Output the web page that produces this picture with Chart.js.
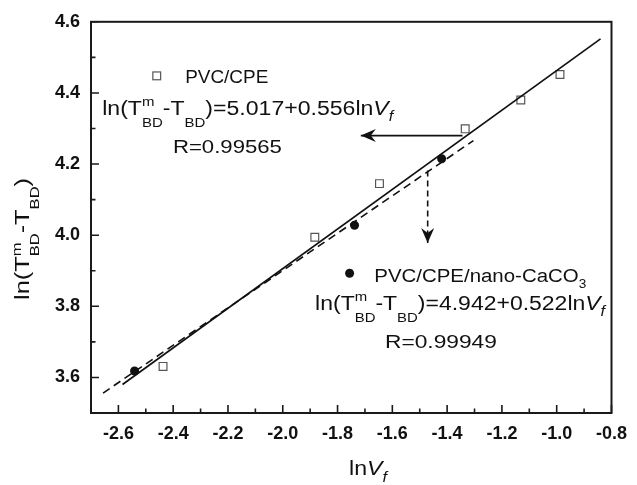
<!DOCTYPE html>
<html><head><meta charset="utf-8">
<script src="https://cdn.jsdelivr.net/npm/chart.js@4/dist/chart.umd.min.js"></script>
<style>html,body{margin:0;padding:0;background:#fff}#wrap{width:637px;height:485px}</style>
</head><body><div id="wrap"><canvas id="c" width="637" height="485"></canvas></div>
<script>
// ---- data ----
const xTicks = [-2.6, -2.4, -2.2, -2.0, -1.8, -1.6, -1.4, -1.2, -1.0, -0.8];
const xTickLabels = ['-2.6', '-2.4', '-2.2', '-2.0', '-1.8', '-1.6', '-1.4', '-1.2', '-1.0', '-0.8'];
const yTicks = [3.6, 3.8, 4.0, 4.2, 4.4, 4.6];
const yTickLabels = ['3.6', '3.8', '4.0', '4.2', '4.4', '4.6'];

const cpeX = [-2.437, -1.883, -1.647, -1.334, -1.131, -0.988];
const cpeY = [3.631, 3.994, 4.145, 4.299, 4.380, 4.452];
const nanoX = [-2.541, -1.738, -1.420];
const nanoY = [3.618, 4.028, 4.215];

const fitCpeX = [-2.585, -0.84];
const fitCpeY = [3.580, 4.552];
const fitNanoX = [-2.656, -1.304];
const fitNanoY = [3.556, 4.266];

const arrowCpeX = [-1.344, -1.715];
const arrowCpeY = [4.280, 4.280];
const arrowNanoX = [-1.471, -1.471];
const arrowNanoY = [4.182, 3.978];

const seriesNames = ['PVC/CPE', 'PVC/CPE/nano-CaCO'];
const eqCpe = ['5.017', '0.556', '0.99565'];
const eqNano = ['4.942', '0.522', '0.99949'];

const pts = (xs, ys) => xs.map((x, i) => ({x: x, y: ys[i]}));

// ---- rich text helpers ----
const FAM = '"Liberation Sans", Arial, sans-serif';
function segFont(k, size) {
  let s = size;
  if (k === 'sup' || k === 'sub') s = Math.round(size * 0.65);
  if (k === 'isub') s = Math.round(size * 0.72);
  const it = (k === 'i' || k === 'isub') ? 'italic ' : '';
  return it + s + 'px ' + FAM;
}
function drawRich(ctx, segs, x, y, size, targetW, rot, subOff) {
  const sub = subOff !== undefined ? subOff : size * 0.62;
  const sup = -size * 0.42;
  const offOf = s => s.dy !== undefined ? s.dy :
    (s.k === 'sub' ? sub : s.k === 'isub' ? size * 0.33 : s.k === 'sup' ? sup : 0);
  const widthOf = s => {
    if (s.k === 'ss') {
      ctx.font = segFont('sup', size); const a = ctx.measureText(s.t).width;
      ctx.font = segFont('sub', size); const b = ctx.measureText(s.t2).width;
      return Math.max(a, b);
    }
    ctx.font = segFont(s.k, size); return ctx.measureText(s.t).width;
  };
  let nat = 0; segs.forEach(s => nat += widthOf(s));
  const sx = targetW ? targetW / nat : 1;
  ctx.save();
  ctx.translate(x, y);
  if (rot) ctx.rotate(rot);
  ctx.scale(sx, 1);
  ctx.textBaseline = 'alphabetic'; ctx.textAlign = 'left'; ctx.fillStyle = '#111';
  let cx = 0;
  for (const s of segs) {
    const w = widthOf(s);
    if (s.k === 'ss') {
      ctx.font = segFont('sup', size); ctx.fillText(s.t, cx, sup);
      ctx.font = segFont('sub', size); ctx.fillText(s.t2, cx, sub);
    } else {
      ctx.font = segFont(s.k, size); ctx.fillText(s.t, cx, offOf(s));
    }
    cx += w;
  }
  ctx.restore();
}
function eqSegs(a, b) {
  return [
    {t: 'ln(T', k: 'n'}, {t: 'm', t2: 'BD', k: 'ss'}, {t: '-T', k: 'n'}, {t: 'BD', k: 'sub'},
    {t: ')=' + a + '+' + b + 'ln', k: 'n'}, {t: 'V', k: 'i'}, {t: 'f', k: 'isub'}
  ];
}

function arrowHead(ctx, x1, y1, x2, y2) {
  const ang = Math.atan2(y2 - y1, x2 - x1);
  const L = 15, W = 6.5, N = 10;
  ctx.save();
  ctx.translate(x2, y2); ctx.rotate(ang);
  ctx.setLineDash([]);
  ctx.fillStyle = '#111';
  ctx.beginPath();
  ctx.moveTo(0, 0);
  ctx.lineTo(-L, -W);
  ctx.lineTo(-N, 0);
  ctx.lineTo(-L, W);
  ctx.closePath();
  ctx.fill();
  ctx.restore();
}

const decor = {
  id: 'decor',
  afterDatasetsDraw(chart) {
    const ctx = chart.ctx, ca = chart.chartArea;
    const xs = chart.scales.x, ys = chart.scales.y;
    const px = v => xs.getPixelForValue(v), py = v => ys.getPixelForValue(v);

    // arrowheads
    [2, 3].forEach(i => {
      const d = chart.getDatasetMeta(i).data;
      arrowHead(ctx, d[0].x, d[0].y, d[1].x, d[1].y);
    });

    // frame
    ctx.save();
    ctx.strokeStyle = '#1a1a1a'; ctx.lineWidth = 2; ctx.setLineDash([]);
    ctx.strokeRect(ca.left, ca.top, ca.right - ca.left, ca.bottom - ca.top);
    // inward ticks
    ctx.lineWidth = 1.6;
    ctx.beginPath();
    xTicks.forEach(v => {
      const x = px(v);
      ctx.moveTo(x, ca.bottom); ctx.lineTo(x, ca.bottom - 8);
      const m = px(v - 0.1);
      ctx.moveTo(m, ca.bottom); ctx.lineTo(m, ca.bottom - 4.5);
    });
    yTicks.forEach(v => {
      const y = py(v);
      ctx.moveTo(ca.left, y); ctx.lineTo(ca.left + 8, y);
      const m = py(v - 0.1);
      ctx.moveTo(ca.left, m); ctx.lineTo(ca.left + 4.5, m);
    });
    ctx.stroke();

    // legend markers
    ctx.strokeStyle = '#555'; ctx.lineWidth = 1.2;
    const sq = 3.9;
    const lx = px(-2.460), ly = py(4.448);
    ctx.strokeRect(lx - sq, ly - sq, 2 * sq, 2 * sq);
    ctx.fillStyle = '#111';
    ctx.beginPath(); ctx.arc(px(-1.756), py(3.893), 4.5, 0, Math.PI * 2); ctx.fill();
    ctx.restore();

    // annotations
    drawRich(ctx, [{t: seriesNames[0], k: 'n'}], px(-2.356), py(4.427), 18, 83);
    drawRich(ctx, eqSegs(eqCpe[0], eqCpe[1]), px(-2.659), py(4.339), 20, 291);
    drawRich(ctx, [{t: 'R=' + eqCpe[2], k: 'n'}], px(-2.401), py(4.232), 18, 109);

    drawRich(ctx, [{t: seriesNames[1], k: 'n'}, {t: '3', k: 'sub', dy: 6}], px(-1.666), py(3.867), 18, 212);
    drawRich(ctx, eqSegs(eqNano[0], eqNano[1]), px(-1.882), py(3.791), 20, 290);
    drawRich(ctx, [{t: 'R=' + eqNano[2], k: 'n'}], px(-1.627), py(3.684), 18, 112);

    // axis titles
    drawRich(ctx, [{t: 'ln', k: 'n'}, {t: 'V', k: 'i'}, {t: 'f', k: 'isub'}], 349, 475, 20, 38);
    drawRich(ctx, [{t: 'ln(T', k: 'n'}, {t: 'm', t2: 'BD', k: 'ss'}, {t: '-T', k: 'n'}, {t: 'BD', k: 'sub'}, {t: ')', k: 'n'}],
      29, 300, 20, 122, -Math.PI / 2, 10);
  }
};

const tickFont = {family: FAM, size: 18, weight: 'bold'};

new Chart(document.getElementById('c'), {
  type: 'scatter',
  data: {
    datasets: [
      {data: pts(fitCpeX, fitCpeY), showLine: true, borderColor: '#111', borderWidth: 1.7, pointRadius: 0, fill: false},
      {data: pts(fitNanoX, fitNanoY), showLine: true, borderColor: '#111', borderWidth: 1.6, borderDash: [8, 5], pointRadius: 0, fill: false},
      {data: pts(arrowCpeX, arrowCpeY), showLine: true, borderColor: '#111', borderWidth: 1.6, pointRadius: 0, fill: false},
      {data: pts(arrowNanoX, arrowNanoY), showLine: true, borderColor: '#111', borderWidth: 1.6, borderDash: [6, 4], pointRadius: 0, fill: false},
      {label: seriesNames[0], data: pts(cpeX, cpeY), pointStyle: 'rect', pointRadius: 5.5, borderColor: '#555', borderWidth: 1.2, backgroundColor: 'rgba(255,255,255,0)'},
      {label: seriesNames[1] + '3', data: pts(nanoX, nanoY), pointStyle: 'circle', pointRadius: 4.5, borderColor: '#111', borderWidth: 0, backgroundColor: '#111'}
    ]
  },
  options: {
    responsive: false,
    animation: false,
    devicePixelRatio: 1,
    layout: {padding: {left: 0, top: 18, right: 18, bottom: 0}},
    plugins: {legend: {display: false}, tooltip: {enabled: false}},
    scales: {
      x: {
        type: 'linear', min: -2.7, max: -0.8,
        afterBuildTicks: s => { s.ticks = xTicks.map(v => ({value: v})); },
        afterFit: s => { s.height = 72; },
        ticks: {font: tickFont, color: '#111', padding: 10, maxRotation: 0, autoSkip: false,
          callback: (v) => { const i = xTicks.findIndex(t => Math.abs(t - v) < 1e-6); return i >= 0 ? xTickLabels[i] : ''; }},
        grid: {display: false, drawTicks: false},
        border: {display: false}
      },
      y: {
        type: 'linear', min: 3.5, max: 4.6,
        afterBuildTicks: s => { s.ticks = yTicks.map(v => ({value: v})); },
        afterFit: s => { s.width = 91; },
        ticks: {font: tickFont, color: '#111', padding: 11,
          callback: (v) => { const i = yTicks.findIndex(t => Math.abs(t - v) < 1e-6); return i >= 0 ? yTickLabels[i] : ''; }},
        grid: {display: false, drawTicks: false},
        border: {display: false}
      }
    }
  },
  plugins: [decor]
});
</script>
</body></html>
